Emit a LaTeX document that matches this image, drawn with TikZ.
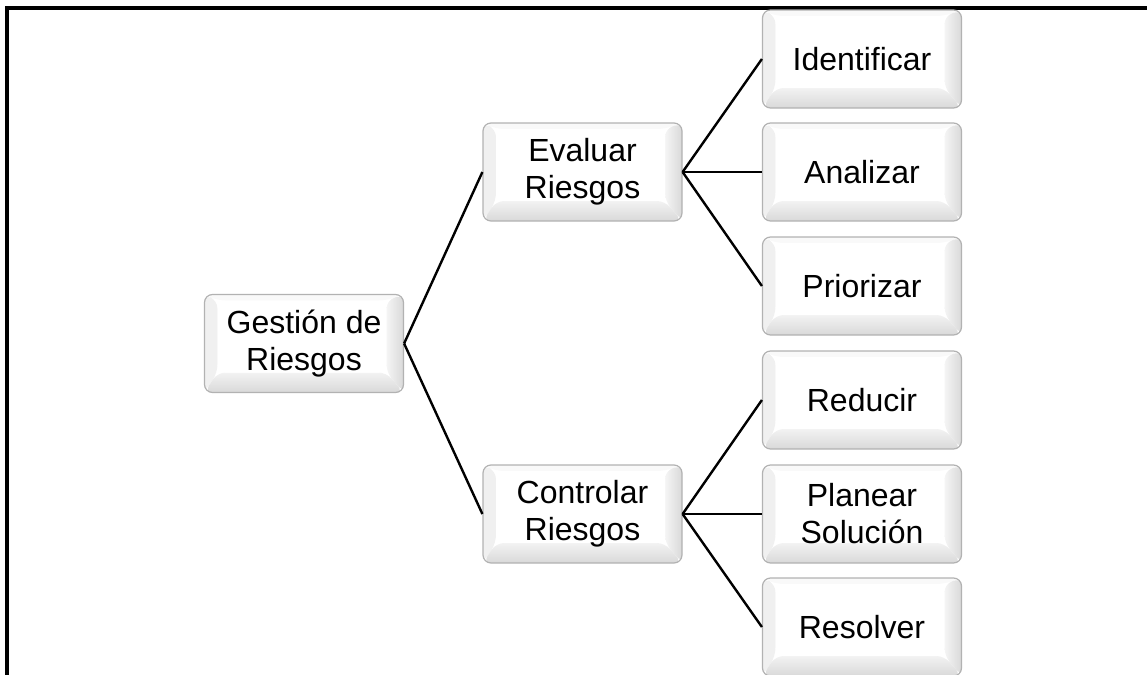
\documentclass[tikz,border=0pt]{standalone}
\usepackage{fontspec}
\setmainfont{Liberation Sans}
\usetikzlibrary{calc}
\tikzset{
 keycap/.style={rectangle, rounded corners=4pt, minimum width=99.5pt, minimum height=49pt,
  inner sep=0pt, align=center, font=\fontsize{16}{18.5}\selectfont,
  draw=black!30, line width=0.6pt,
  path picture={
   \path (path picture bounding box.north west) coordinate (kA)
         (path picture bounding box.north east) coordinate (kB)
         (path picture bounding box.south east) coordinate (kC)
         (path picture bounding box.south west) coordinate (kD);
   \path ($(kA)+(6.5pt,-3pt)$) coordinate (ka)
         ($(kB)+(-8.5pt,-3pt)$) coordinate (kb)
         ($(kC)+(-8.5pt,10pt)$) coordinate (kc)
         ($(kD)+(6.5pt,10pt)$) coordinate (kd);
   \fill[gray!5] (kA) -- (kB) -- (kb) -- (ka) -- cycle;
   \fill[gray!12] (kA) -- (kD) -- (kd) -- (ka) -- cycle;
   \shade[left color=gray!8, right color=gray!30] (kB) -- (kC) -- (kc) -- (kb) -- cycle;
   \shade[top color=gray!10, bottom color=gray!30] (kD) -- (kC) -- (kc) -- (kd) -- cycle;
   \fill[white] (ka) -- (kb) -- (kc) -- (kd) -- cycle;
  }},
 conn/.style={line width=1.2pt, black},
 frameline/.style={line width=2pt, black}
}
\begin{document}
\begin{tikzpicture}[x=0.5pt,y=-0.5pt]
\useasboundingbox (0,0) rectangle (1147,675);
\draw[frameline] (7,675) -- (7,8) -- (1147,8);
\node[keycap] (g) at (304,343.5) {Gestión de\\Riesgos};
\node[keycap] (e) at (582.5,172) {Evaluar\\Riesgos};
\node[keycap] (c) at (582.5,514) {Controlar\\Riesgos};
\node[keycap] (i) at (862,59) {Identificar};
\node[keycap] (a) at (862,172) {Analizar};
\node[keycap] (p) at (862,286) {Priorizar};
\node[keycap] (r) at (862,400) {Reducir};
\node[keycap] (pl) at (862,514) {Planear\\Solución};
\node[keycap] (rs) at (862,627) {Resolver};
\draw[conn] (g.east) -- (e.west);
\draw[conn] (g.east) -- (c.west);
\draw[conn] (e.east) -- (i.west);
\draw[conn] (e.east) -- (a.west);
\draw[conn] (e.east) -- (p.west);
\draw[conn] (c.east) -- (r.west);
\draw[conn] (c.east) -- (pl.west);
\draw[conn] (c.east) -- (rs.west);
\end{tikzpicture}
\end{document}
